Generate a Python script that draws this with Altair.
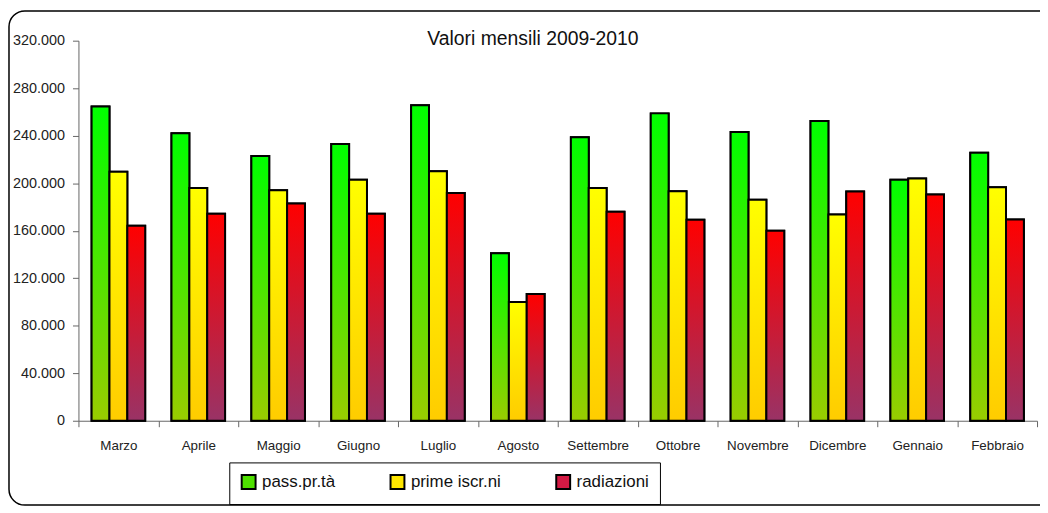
import altair as alt
import pandas as pd

months = ["Marzo", "Aprile", "Maggio", "Giugno", "Luglio", "Agosto",
          "Settembre", "Ottobre", "Novembre", "Dicembre", "Gennaio", "Febbraio"]
series = ["pass.pr.tà", "prime iscr.ni", "radiazioni"]

pass_prta = [264500, 242000, 223000, 233000, 265700, 141000,
             238700, 258800, 243200, 252400, 203000, 225600]
prime_iscr = [209700, 196000, 194000, 203000, 210000, 100000,
              196000, 193200, 186000, 173600, 204000, 196600]
radiazioni = [164200, 174200, 183000, 174200, 191700, 106800,
              176000, 169200, 159900, 193000, 190500, 169500]

y_ticks = [0, 40000, 80000, 120000, 160000, 200000, 240000, 280000, 320000]

top_colors = ["#00FF00", "#FFFF00", "#FF0000"]
bottom_colors = ["#99CC00", "#FFCC00", "#993366"]
legend_colors = ["#4FE000", "#FFE600", "#D41A44"]

rows = []
for s, vals in zip(series, [pass_prta, prime_iscr, radiazioni]):
    for m, v in zip(months, vals):
        rows.append({"mese": m, "serie": s, "valore": v})
df = pd.DataFrame(rows)

FONT = "Liberation Sans, Arial, sans-serif"

base = alt.Chart(df).encode(
    x=alt.X("mese:N", sort=months, title=None,
            scale=alt.Scale(paddingInner=0, paddingOuter=0),
            axis=alt.Axis(labelAngle=0, tickBand="extent", tickSize=6,
                          labelPadding=12, labelFontSize=13.5, domainColor="#666666",
                          tickColor="#666666", labelColor="#222222")),
    xOffset=alt.XOffset("serie:N", scale=alt.Scale(domain=series, paddingInner=0,
                                                     paddingOuter=0.736)),
    y=alt.Y("valore:Q", title=None,
            scale=alt.Scale(domain=[0, 320000], nice=False),
            axis=alt.Axis(values=y_ticks, tickSize=6, labelPadding=8, labelFontSize=14.5,
                          grid=False, domainColor="#666666", tickColor="#666666",
                          labelColor="#222222",
                          labelExpr="replace(format(datum.value, ',d'), ',', '.')")),
)

solid = base.mark_bar(stroke="black", strokeWidth=2).encode(
    color=alt.Color("serie:N", scale=alt.Scale(domain=series, range=legend_colors),
                    legend=alt.Legend(title=None, orient="none", direction="horizontal",
                                      columns=3, legendX=152, legendY=425,
                                      strokeColor="black", padding=11,
                                      symbolType="square", symbolSize=196,
                                      symbolStrokeColor="black", symbolStrokeWidth=2,
                                      symbolOpacity=1,
                                      labelFontSize=17, labelColor="#111111",
                                      labelOffset=5, columnPadding=51))
)

layers = [solid]
for s, top, bot in zip(series, top_colors, bottom_colors):
    grad = alt.LinearGradient(
        gradient="linear",
        stops=[alt.GradientStop(color=top, offset=0),
               alt.GradientStop(color=bot, offset=1)],
        x1=0, x2=0, y1=0, y2=1,
    )
    layers.append(
        base.mark_bar(fill=grad, stroke="black", strokeWidth=2)
        .transform_filter(alt.datum.serie == s)
    )

frame = alt.Chart(pd.DataFrame({"k": [0]})).mark_rect(
    fillOpacity=0, stroke="black", strokeWidth=1.5, cornerRadius=16
).encode(
    x=alt.value(-70), x2=alt.value(1000),
    y=alt.value(-30), y2=alt.value(468),
)

chart = alt.layer(*layers, frame).properties(
    width=966, height=383,
    title=alt.TitleParams("Valori mensili 2009-2010", fontSize=19.5, fontWeight="normal",
                          color="#111111", anchor="middle", dx=-25, dy=44),
    autosize=alt.AutoSizeParams(type="none"),
    padding={"left": 71, "top": 31, "right": 3, "bottom": 86},
).configure(font=FONT).configure_view(stroke=None)

chart.save("out.html", embed_options={"renderer": "svg", "actions": False})
